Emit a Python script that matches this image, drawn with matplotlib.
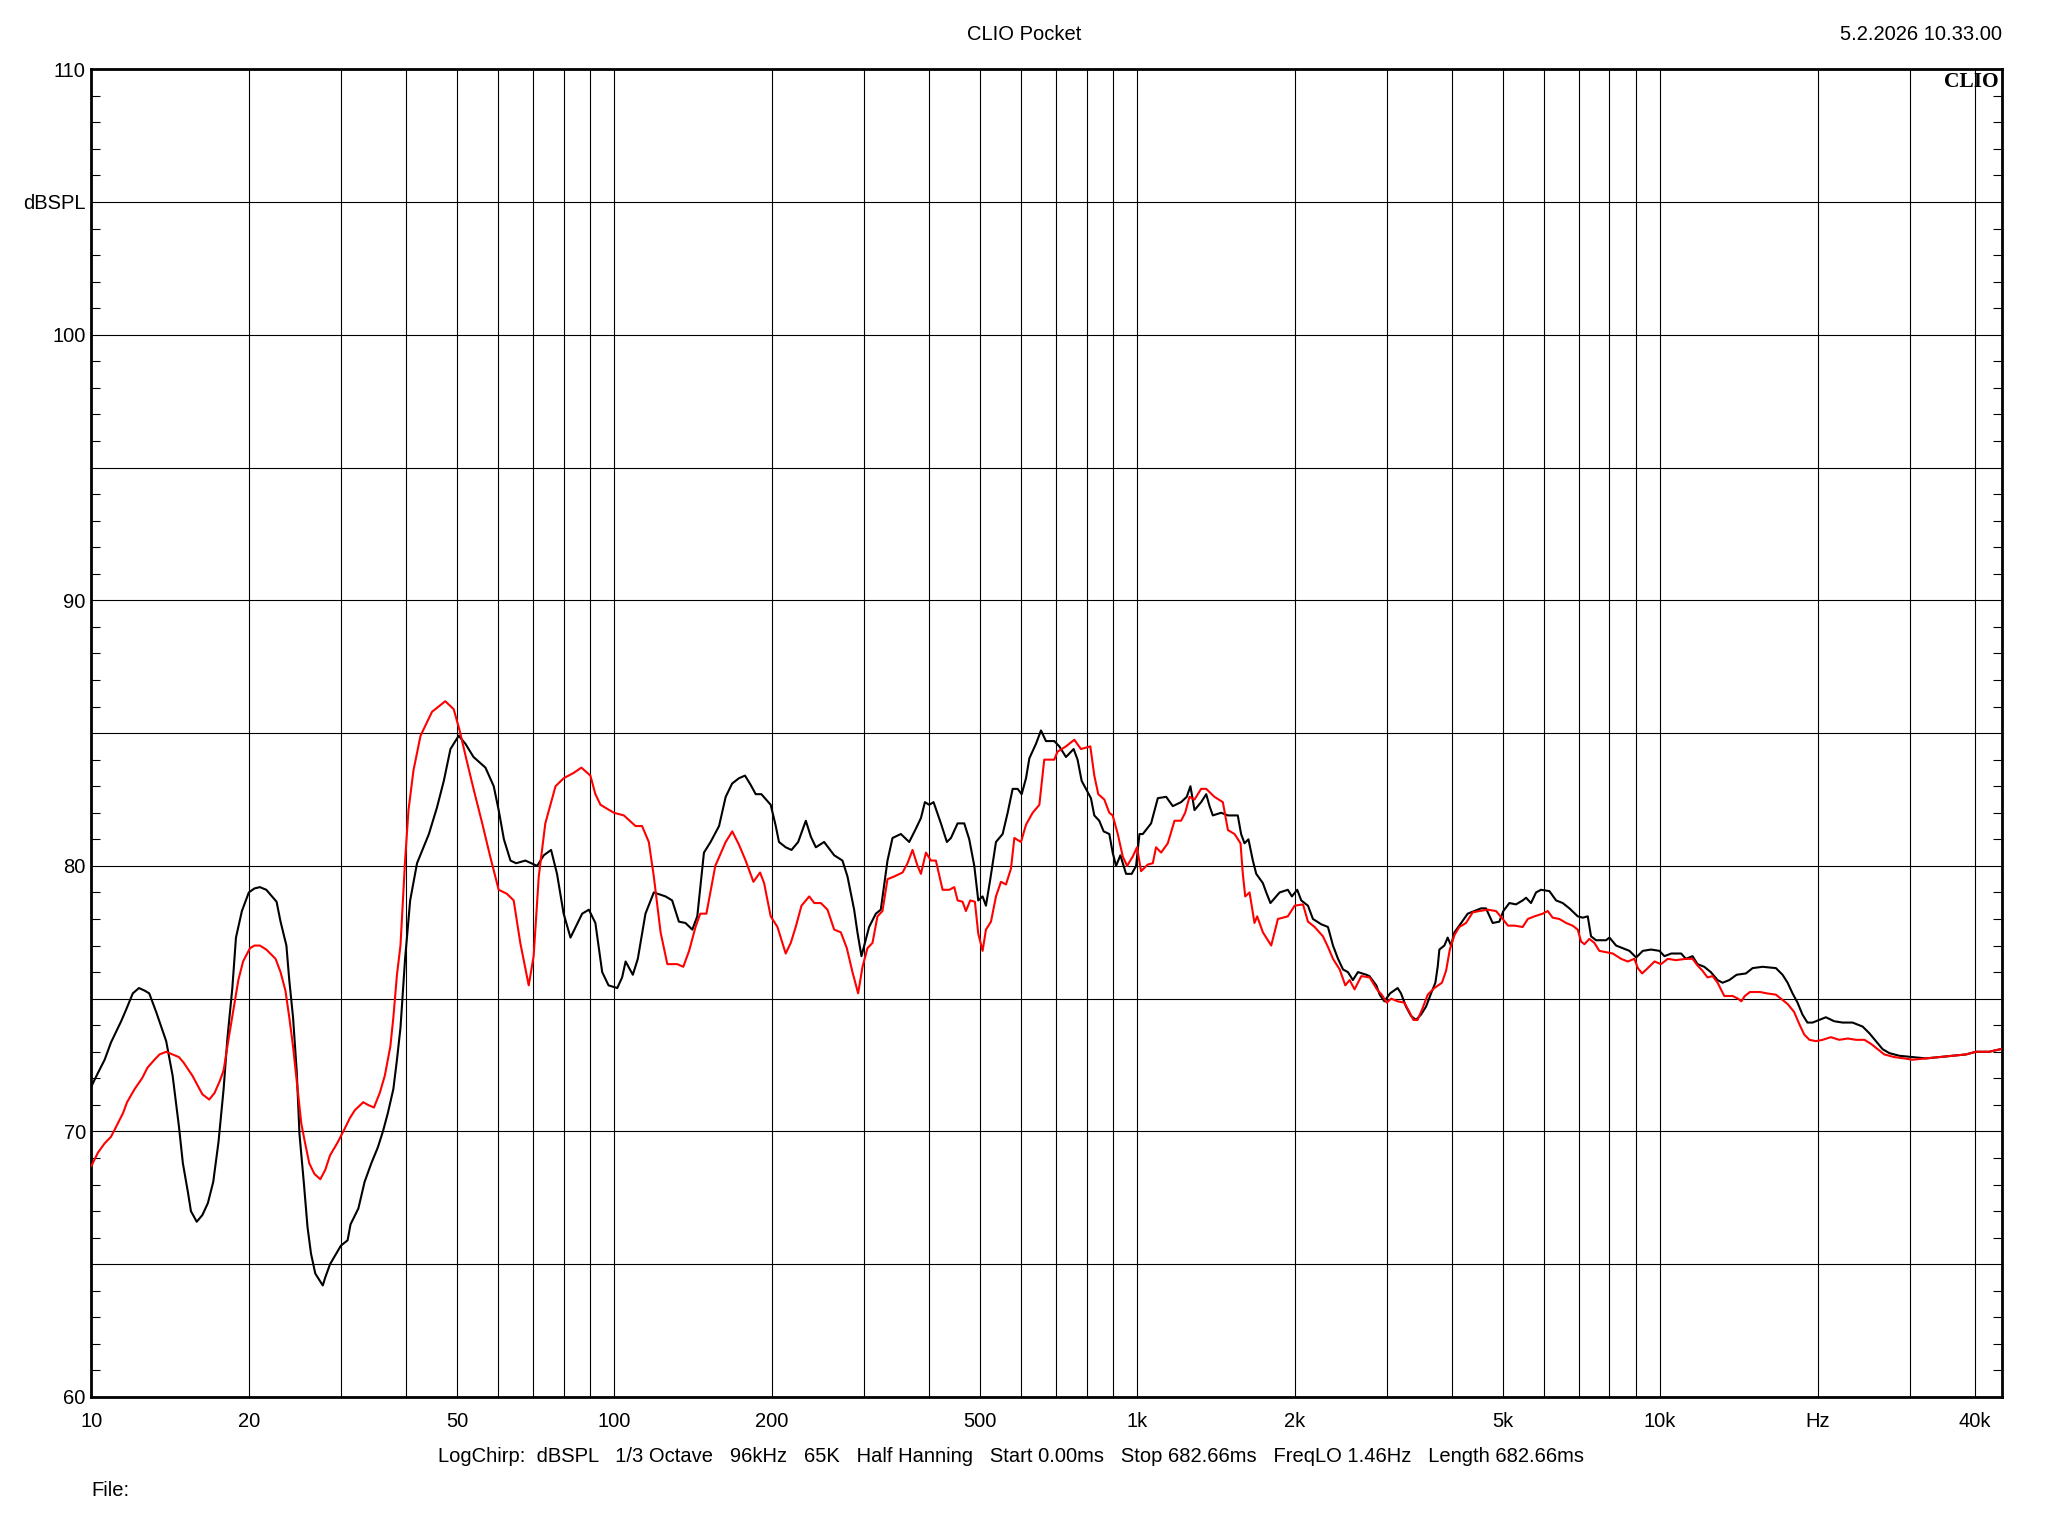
import matplotlib
matplotlib.use("Agg")
import matplotlib.pyplot as plt
from matplotlib.ticker import FixedLocator, NullFormatter, MultipleLocator

plt.rcParams['font.family'] = ['Liberation Sans', 'DejaVu Sans']

# ---------------- data ----------------
freq_black = [10.0, 10.29, 10.6, 10.9, 11.4, 11.66, 12.0, 12.33, 12.65, 12.9, 13.3, 13.9, 14.3, 14.7, 14.96,
              15.3, 15.5, 15.9, 16.3, 16.7, 17.1, 17.5, 17.9, 18.2, 18.6, 18.9, 19.4, 20.0, 20.5, 21.0,
              21.6, 22.6, 23.0, 23.6, 23.9, 24.3, 24.7, 25.0, 25.5, 25.9, 26.3, 26.8, 27.7, 28.0, 28.6,
              29.4, 30.0, 30.9, 31.3, 32.4, 33.3, 34.3, 35.3, 36.1, 36.9, 37.8, 38.4, 39.0,
              39.8, 40.7, 41.95, 44.2, 45.8, 47.2, 48.6, 50.4, 51.9, 53.8, 56.7, 58.8, 60.1, 61.5, 63.3,
              64.9, 67.6, 71.2, 73.3, 75.7, 77.7, 80.0, 82.45, 86.8, 89.4, 92.0, 94.8, 97.5, 101.3, 103.5,
              105.1, 108.5, 110.9, 114.7, 119, 125.3, 129, 132.9, 136.8, 141, 144.1, 148.4, 152.8, 158.6,
              163.3, 168, 173.1, 177.8, 182.3, 186.4, 191.1, 199.1, 203.6, 206.5, 212.7, 218.2, 224.7,
              232.4, 237.6, 242.9, 251.9, 263.3, 273.1, 279.2, 287.5, 291.7, 296.9, 307.1, 316.3, 323.3,
              333, 340.4, 353.2, 366.4, 377.3, 385.8, 392.6, 400.2, 407.9, 421.3, 432.5, 440.3, 453.4,
              466.9, 477.3, 488, 496.6, 506.2, 513.7, 523.6, 536.9, 552.9, 565.2, 577.8, 590.6, 601.2,
              612.8, 621.9, 640.4, 654.6, 669, 694, 709.6, 730.7, 755.8, 769, 783, 798, 815.6, 827.8, 846,
              862.5, 884.4, 897.5, 911, 928.6, 952, 976, 995, 1010, 1025, 1063, 1095, 1136, 1169.5, 1213,
              1243.6, 1264, 1287, 1325, 1355, 1375, 1395, 1447, 1491, 1557, 1580, 1604, 1632, 1664, 1689,
              1739, 1765, 1798, 1872, 1941, 1976, 2023, 2059, 2121, 2168, 2249, 2316, 2368, 2421, 2475,
              2529, 2585, 2643, 2743, 2780, 2866, 2909, 2969, 3045, 3148, 3195, 3266, 3339, 3413, 3489,
              3567, 3647, 3717, 3755, 3783, 3867, 3924, 3982, 4043, 4130, 4285, 4413, 4545, 4645, 4784,
              4926, 5014, 5148, 5301, 5460, 5541, 5664, 5790, 5919, 6140, 6324, 6513, 6707, 6957, 7112,
              7271, 7376, 7540, 7880, 8000, 8238, 8484, 8737, 8998, 9265, 9612, 9970, 10190, 10500, 10970,
              11200, 11535, 11790, 12145, 12500, 12880, 13165, 13560, 14005, 14590, 15025, 15700, 16650,
              17145, 17530, 17915, 18315, 18715, 19130, 19570, 20150, 20750, 21520, 22330, 23330, 24390,
              25120, 25860, 26630, 27430, 28660, 30380, 32220, 34180, 36260, 38470, 40150, 42590, 44820]
spl_black = [71.7, 72.2, 72.7, 73.35, 74.15, 74.6, 75.2, 75.4, 75.3, 75.2, 74.5, 73.4, 72.1, 70.2, 68.8,
             67.7, 67.0, 66.6, 66.85, 67.3, 68.1, 69.6, 71.6, 73.5, 75.4, 77.3, 78.3, 79.0, 79.15, 79.2,
             79.1, 78.65, 77.9, 77.0, 75.7, 74.3, 72.25, 69.9, 68.0, 66.4, 65.4, 64.65, 64.2, 64.5, 65.0,
             65.4, 65.7, 65.9, 66.5, 67.1, 68.1, 68.8, 69.4, 70.0, 70.7, 71.6, 72.7, 73.9,
             76.5, 78.7, 80.1, 81.2, 82.2, 83.2, 84.4, 84.9, 84.6, 84.1, 83.7, 83.0, 82.1, 81.0, 80.2,
             80.1, 80.2, 80.0, 80.4, 80.6, 79.7, 78.2, 77.3, 78.2, 78.35, 77.85, 76.0, 75.5, 75.4, 75.8,
             76.4, 75.9, 76.5, 78.2, 79.0, 78.85, 78.7, 77.9, 77.85, 77.6, 78.1, 80.5, 80.9, 81.5,
             82.6, 83.1, 83.3, 83.4, 83.05, 82.7, 82.7, 82.3, 81.5, 80.9, 80.7, 80.6, 80.9,
             81.7, 81.1, 80.7, 80.9, 80.4, 80.2, 79.6, 78.35, 77.5, 76.6, 77.7, 78.2, 78.35,
             80.2, 81.05, 81.2, 80.9, 81.4, 81.8, 82.4, 82.3, 82.4, 81.6, 80.9, 81.05, 81.6,
             81.6, 81.0, 80.0, 78.7, 78.85, 78.5, 79.5, 80.9, 81.2, 82.0, 82.9, 82.9, 82.7,
             83.3, 84.05, 84.6, 85.1, 84.7, 84.7, 84.5, 84.1, 84.4, 84.0, 83.2, 82.9, 82.55, 81.9, 81.7,
             81.3, 81.2, 80.5, 80.0, 80.4, 79.7, 79.7, 80.0, 81.2, 81.2, 81.6, 82.55, 82.6, 82.25, 82.4,
             82.6, 83.0, 82.1, 82.4, 82.7, 82.25, 81.9, 82.0, 81.9, 81.9, 81.2, 80.85, 81.0, 80.2, 79.7,
             79.35, 79.0, 78.6, 79.0, 79.1, 78.85, 79.1, 78.7, 78.5, 78.0, 77.8, 77.7, 77.0, 76.5, 76.1,
             76.0, 75.7, 76.0, 75.9, 75.85, 75.5, 75.15, 74.9, 75.2, 75.4, 75.2, 74.7, 74.35, 74.2, 74.4,
             74.7, 75.2, 75.6, 76.2, 76.85, 77.0, 77.3, 77.0, 77.5, 77.75, 78.2, 78.3, 78.4, 78.4, 77.85,
             77.9, 78.3, 78.6, 78.55, 78.7, 78.8, 78.6, 79.0, 79.1, 79.05, 78.7, 78.6, 78.4, 78.1, 78.05,
             78.1, 77.35, 77.2, 77.2, 77.3, 77.0, 76.9, 76.8, 76.55, 76.8, 76.85, 76.8, 76.6, 76.7, 76.7,
             76.5, 76.6, 76.3, 76.2, 76.0, 75.7, 75.6, 75.7, 75.9, 75.95, 76.15, 76.2, 76.15,
             75.9, 75.6, 75.2, 74.85, 74.4, 74.1, 74.1, 74.2, 74.3, 74.15, 74.1, 74.1, 73.95,
             73.7, 73.4, 73.1, 72.95, 72.85, 72.8, 72.75, 72.8, 72.85, 72.9, 73.0, 73.0, 73.1]

freq_red = [10.0, 10.29, 10.6, 10.9, 11.1, 11.5, 11.7, 12.1, 12.5, 12.8, 13.2, 13.5, 13.9, 14.1, 14.7,
            15.0, 15.6, 16.1, 16.3, 16.8, 17.2, 17.6, 17.9, 18.3, 18.7, 19.1, 19.5, 20.1, 20.5, 21.0,
            21.6, 22.5, 23.0, 23.5, 23.9, 24.3, 24.7, 25.2, 25.6, 26.1, 26.7, 27.4, 28.0, 28.6, 29.6,
            30.5, 31.2, 31.9, 33.1, 33.8, 34.7, 35.6, 36.4, 37.3, 37.8, 38.4, 39.0,
            39.8, 40.4, 41.3, 42.6, 44.8, 47.5, 49.3, 50.6, 52.3, 53.8, 55.9, 57.9, 60.1, 62.3, 64.2,
            66.1, 68.6, 70.1, 71.7, 73.8, 77.2, 80.0, 83.6, 86.5, 90.0, 92.0, 94.1, 99.8, 104.3, 109.8,
            113, 116.4, 119, 122.6, 126.3, 132, 135.5, 139, 143, 146, 150, 156, 163.3, 168.1, 173.1,
            178.3, 184.5, 190, 193.4, 199.1, 205.1, 212.7, 217.5, 222.3, 228, 235.9, 241.2, 248.3,
            255.7, 263.3, 271.1, 278.4, 285.4, 292.6, 298.3, 304.9, 311.7, 318.6, 325.7, 333, 342.9,
            355.8, 363.7, 371.8, 380.1, 385.8, 394.4, 403.2, 412.1, 424.4, 437.1, 446.8, 453.4, 463.4,
            470.3, 479.4, 489.3, 496.6, 506.2, 513.7, 525.2, 536.9, 548.8, 561.1, 573.6, 582.1, 599.4,
            612.8, 631, 649.9, 664, 694, 704, 730.7, 758, 780.5, 813.4, 827.8, 842.4, 865, 884.4, 897.5,
            917.9, 938.4, 956.5, 980.4, 999, 1017, 1047.4, 1071, 1086.5, 1111, 1144, 1178.4, 1213, 1235,
            1259, 1287, 1325, 1355, 1405, 1458, 1491, 1535, 1576, 1592, 1609, 1640, 1676, 1696, 1739,
            1804, 1858, 1941, 2000, 2075, 2121, 2184, 2265, 2316, 2368, 2439, 2500, 2548, 2604, 2683,
            2783, 2873, 2935, 3000, 3060, 3148, 3242, 3315, 3373, 3437, 3515, 3594, 3700, 3826, 3896,
            3961, 4043, 4130, 4254, 4381, 4512, 4680, 4855, 5000, 5117, 5263, 5460, 5584, 5750, 5962,
            6095, 6230, 6418, 6610, 6800, 6957, 7061, 7165, 7323, 7485, 7652, 7880, 8118, 8420, 8672,
            8930, 9065, 9237, 9471, 9757, 10040, 10340, 10720, 11210, 11535, 11790, 12050, 12320, 12600,
            12880, 13070, 13265, 13770, 14090, 14300, 14520, 14850, 15530, 16000, 16650, 17020, 17530,
            18040, 18450, 18860, 19300, 19850, 20450, 21210, 22000, 22850, 23690, 24580, 25300, 26060,
            26830, 28030, 29300, 30380, 32220, 34180, 36260, 38470, 40150, 42590, 44820]
spl_red = [68.7, 69.2, 69.55, 69.8, 70.1, 70.7, 71.1, 71.6, 72.0, 72.4, 72.7, 72.9, 73.0, 72.95, 72.8,
           72.6, 72.1, 71.6, 71.4, 71.2, 71.45, 71.9, 72.3, 73.5, 74.6, 75.7, 76.4, 76.9, 77.0, 77.0,
           76.85, 76.5, 76.0, 75.3, 74.3, 73.2, 71.9, 70.3, 69.6, 68.8, 68.4, 68.2, 68.55, 69.1, 69.6,
           70.1, 70.5, 70.8, 71.1, 71.0, 70.9, 71.45, 72.1, 73.2, 74.3, 75.9, 77.0,
           80.2, 82.1, 83.6, 84.9, 85.8, 86.2, 85.9, 85.1, 83.9, 82.9, 81.6, 80.35, 79.1, 78.95, 78.7,
           77.1, 75.5, 76.6, 79.6, 81.6, 83.0, 83.3, 83.5, 83.7, 83.4, 82.7, 82.3, 82.0, 81.9, 81.5,
           81.5, 80.9, 79.6, 77.5, 76.3, 76.3, 76.2, 76.8, 77.7, 78.2, 78.2, 80.0, 80.9, 81.3, 80.8,
           80.2, 79.4, 79.75, 79.35, 78.1, 77.7, 76.7, 77.1, 77.7, 78.5, 78.85, 78.6, 78.6,
           78.35, 77.6, 77.5, 76.9, 76.0, 75.2, 76.2, 76.9, 77.1, 78.1, 78.3, 79.5, 79.6,
           79.75, 80.1, 80.6, 80.0, 79.7, 80.5, 80.2, 80.2, 79.1, 79.1, 79.2, 78.7, 78.65,
           78.3, 78.7, 78.65, 77.45, 76.8, 77.6, 77.9, 78.85, 79.4, 79.3, 79.9, 81.05, 80.9,
           81.55, 82.0, 82.3, 84.0, 84.0, 84.3, 84.5, 84.75, 84.4, 84.5, 83.4, 82.7, 82.5, 82.0, 81.9,
           81.2, 80.35, 80.0, 80.35, 80.7, 79.8, 80.05, 80.1, 80.7, 80.5, 80.85, 81.7, 81.7, 82.0,
           82.6, 82.5, 82.9, 82.9, 82.6, 82.4, 81.35, 81.2, 80.85, 79.7, 78.85, 79.0, 77.85, 78.1, 77.5,
           77.0, 78.0, 78.1, 78.5, 78.55, 77.9, 77.7, 77.35, 76.95, 76.5, 76.1, 75.5, 75.7, 75.35, 75.85,
           75.8, 75.35, 75.15, 74.85, 75.0, 74.9, 74.85, 74.5, 74.2, 74.2, 74.65, 75.15, 75.4, 75.6, 76.05,
           76.85, 77.4, 77.7, 77.85, 78.25, 78.3, 78.35, 78.3, 78.0, 77.75, 77.75, 77.7, 78.0, 78.1, 78.2,
           78.3, 78.05, 78.0, 77.85, 77.75, 77.6, 77.15, 77.05, 77.25, 77.1, 76.8, 76.75, 76.7, 76.5, 76.4,
           76.5, 76.15, 75.95, 76.15, 76.4, 76.3, 76.5, 76.45, 76.5, 76.5, 76.25, 76.05, 75.8, 75.85,
           75.6, 75.35, 75.1, 75.1, 75.0, 74.9, 75.1, 75.25, 75.25, 75.2, 75.15, 75.0, 74.8,
           74.5, 74.05, 73.65, 73.45, 73.4, 73.45, 73.55, 73.45, 73.5, 73.45, 73.45, 73.3, 73.1,
           72.9, 72.8, 72.75, 72.7, 72.75, 72.8, 72.85, 72.9, 73.0, 73.0, 73.1]

x_tick_values = [10, 20, 50, 100, 200, 500, 1000, 2000, 5000, 10000, 20000, 40000]
x_tick_labels = ["10", "20", "50", "100", "200", "500", "1k", "2k", "5k", "10k", "Hz", "40k"]
y_tick_values = [60, 65, 70, 75, 80, 85, 90, 95, 100, 105, 110]
y_tick_labels = ["60", "", "70", "", "80", "", "90", "", "100", "dBSPL", "110"]

title_text = "CLIO Pocket"
date_text = "5.2.2026 10.33.00"
info_text = ("LogChirp:  dBSPL   1/3 Octave   96kHz   65K   Half Hanning   Start 0.00ms   "
             "Stop 682.66ms   FreqLO 1.46Hz   Length 682.66ms")
file_text = "File:"

FS = 14.5

# ---------------- figure ----------------
W, H = 2048, 1536
fig = plt.figure(figsize=(W / 100, H / 100), dpi=100)
fig.patch.set_facecolor("white")
ax_left, ax_right = 91.4 / W, 2001.7 / W
ax_top, ax_bottom = 1 - 69.2 / H, 1 - 1397.0 / H
ax = fig.add_axes([ax_left, ax_bottom, ax_right - ax_left, ax_top - ax_bottom])

ax.set_xscale("log")
ax.set_xlim(10, 45000)
ax.set_ylim(60, 110)

grid_x = []
for dec in [10, 100, 1000, 10000]:
    for m in range(1, 10):
        v = dec * m
        if v <= 40000:
            grid_x.append(v)

ax.xaxis.set_major_locator(FixedLocator(x_tick_values))
ax.xaxis.set_minor_locator(FixedLocator([g for g in grid_x if g not in x_tick_values]))
ax.set_xticklabels(x_tick_labels)
ax.xaxis.set_minor_formatter(NullFormatter())
ax.tick_params(axis="x", which="both", length=0, pad=11, labelsize=FS)

ax.yaxis.set_major_locator(FixedLocator(y_tick_values))
ax.set_yticklabels(y_tick_labels)
ax.yaxis.set_minor_locator(MultipleLocator(1))
ax.tick_params(axis="y", which="major", length=0, pad=4, labelsize=FS)
ax.tick_params(axis="y", which="minor", direction="in", length=6.5, width=0.8,
               left=True, right=True, color="black")

ax.grid(True, which="both", axis="x", color="black", linewidth=0.8)
ax.grid(True, which="major", axis="y", color="black", linewidth=0.8)
ax.set_axisbelow(True)

for s in ax.spines.values():
    s.set_linewidth(2.0)
    s.set_color("black")

ax.plot(freq_black, spl_black, color="black", linewidth=1.5, zorder=3)
ax.plot(freq_red, spl_red, color="#ff0000", linewidth=1.5, zorder=4)

# texts
fig.text(0.5, 1 - 40 / H, title_text, ha="center", va="baseline", fontsize=FS)
fig.text(ax_right, 1 - 40 / H, date_text, ha="right", va="baseline", fontsize=FS)
ax.text(0.9985, 0.9864, "CLIO", transform=ax.transAxes, ha="right", va="baseline",
        fontsize=15.5, fontweight="bold", family=["Liberation Serif", "DejaVu Serif"], zorder=5)
fig.text(1011 / W, 1 - 1462 / H, info_text, ha="center", va="baseline", fontsize=FS)
fig.text(ax_left, 1 - 1496 / H, file_text, ha="left", va="baseline", fontsize=FS)

fig.savefig("out.png", dpi=100, facecolor="white")
